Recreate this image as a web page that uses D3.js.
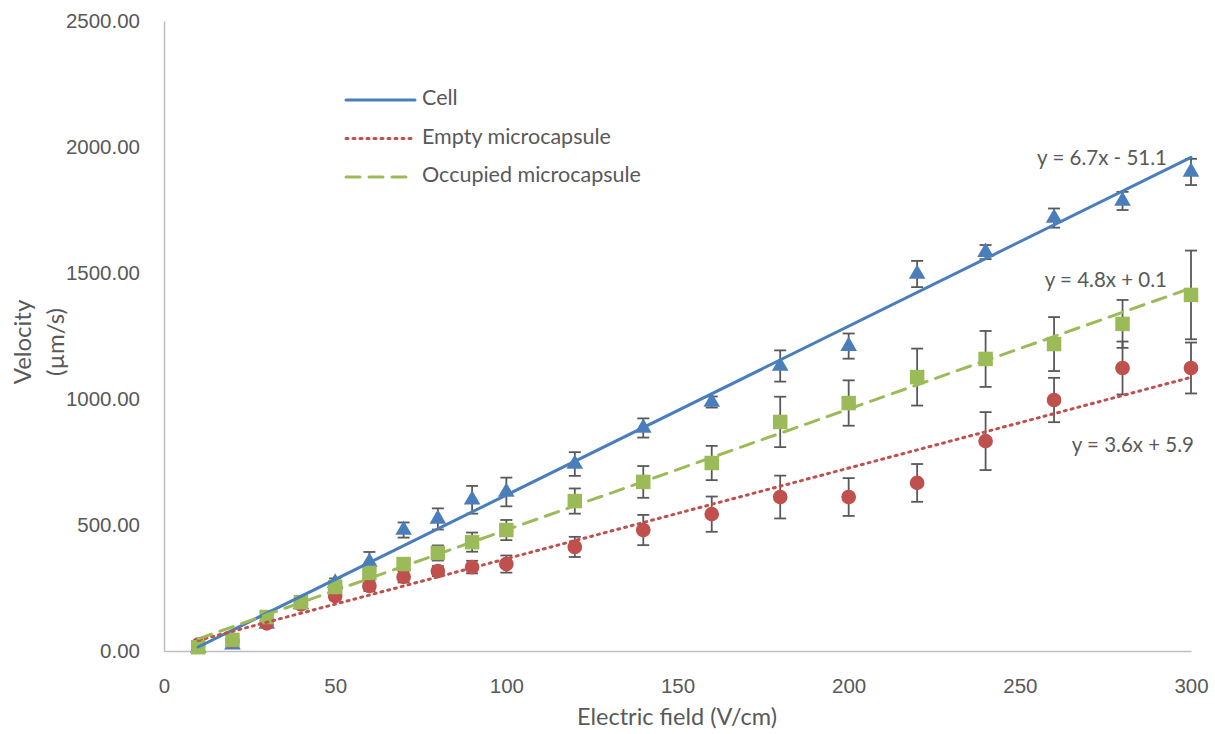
<!DOCTYPE html>
<html lang="en">
<head>
  <meta charset="UTF-8">
  <title>Velocity vs electric field</title>
  <style>
    body { margin: 0; background: #fff; }
    svg { font-family: Lato, "Liberation Sans", sans-serif; }
    .tick text { fill: #595959; font-size: 20.5px; }
  </style>
</head>
<body>
  <div id="chart"></div>
  <script src="https://d3js.org/d3.v7.min.js"></script>
  <script>
    // electric field (V/cm)
    const fields = [10, 20, 30, 40, 50, 60, 70, 80, 90, 100, 120, 140, 160, 180, 200, 220, 240, 260, 280, 300];

    // velocity (um/s) with error
    const cellVel = [12, 25, 107, 185, 270, 353, 480, 524, 600, 631, 742, 885, 988, 1131, 1210, 1496, 1583, 1718, 1786, 1901];
    const cellErr = [5, 8, 10, 12, 18, 40, 30, 42, 55, 57, 47, 38, 22, 62, 50, 52, 28, 38, 36, 52];
    const emptyVel = [25, 40, 110, 185, 218, 258, 294, 317, 333, 345, 413, 480, 543, 611, 611, 667, 833, 996, 1123, 1123];
    const emptyErr = [5, 8, 10, 12, 15, 20, 22, 20, 25, 34, 40, 60, 70, 85, 75, 75, 115, 88, 105, 101];
    const occVel = [15, 44, 135, 194, 254, 310, 345, 389, 432, 480, 595, 671, 746, 909, 984, 1087, 1159, 1218, 1298, 1413];
    const occErr = [5, 8, 10, 12, 15, 18, 20, 30, 38, 40, 50, 63, 68, 100, 90, 113, 111, 107, 95, 176];

    // trend line coefficients [slope, intercept]
    const cellFit = [6.7, -51.1];
    const emptyFit = [3.6, 5.9];
    const occFit = [4.8, 0.1];

    const seriesNames = ['Cell', 'Empty microcapsule', 'Occupied microcapsule'];
    const eqLabels = ['y = 6.7x - 51.1', 'y = 3.6x + 5.9', 'y = 4.8x + 0.1'];
    const yTicks = [0, 500, 1000, 1500, 2000, 2500];
    const xTicks = [0, 50, 100, 150, 200, 250, 300];

    const W = 1215, H = 734;
    const margin = { top: 21, right: 24, bottom: 83, left: 164 };
    const width = W - margin.left - margin.right;
    const height = H - margin.top - margin.bottom;

    const x = d3.scaleLinear().domain([0, 300]).range([0, width]);
    const y = d3.scaleLinear().domain([0, 2500]).range([height, 0]);

    const series = [
      { name: seriesNames[0], vel: cellVel, err: cellErr, fit: cellFit, color: '#4A7EBB', dash: null, shape: d3.symbolTriangle, size: 120, eq: eqLabels[0] },
      { name: seriesNames[1], vel: emptyVel, err: emptyErr, fit: emptyFit, color: '#C0504D', dash: '2,5', shape: d3.symbolCircle, size: 170, eq: eqLabels[1] },
      { name: seriesNames[2], vel: occVel, err: occErr, fit: occFit, color: '#9BBB59', dash: '14,9', shape: d3.symbolSquare, size: 210, eq: eqLabels[2] }
    ];

    const svg = d3.select('#chart').append('svg')
      .attr('width', W)
      .attr('height', H);

    const g = svg.append('g')
      .attr('transform', `translate(${margin.left},${margin.top})`);

    // axes
    const yAxis = g.append('g')
      .call(d3.axisLeft(y).tickValues(yTicks).tickSize(0).tickPadding(24).tickFormat(d3.format('.2f')));
    yAxis.select('.domain').attr('stroke', '#BFBFBF').attr('stroke-width', 1.5);

    const xAxis = g.append('g')
      .attr('transform', `translate(0,${height})`)
      .call(d3.axisBottom(x).tickValues(xTicks).tickSize(0).tickPadding(27));
    xAxis.select('.domain').attr('stroke', '#BFBFBF').attr('stroke-width', 1.5);

    // error bars
    series.forEach(s => {
      const eb = g.append('g').attr('stroke', '#595959').attr('stroke-width', 1.8);
      fields.forEach((f, i) => {
        const cx = x(f);
        const y0 = y(s.vel[i] - s.err[i]), y1 = y(s.vel[i] + s.err[i]);
        eb.append('line').attr('x1', cx).attr('x2', cx).attr('y1', y0).attr('y2', y1);
        eb.append('line').attr('x1', cx - 6).attr('x2', cx + 6).attr('y1', y0).attr('y2', y0);
        eb.append('line').attr('x1', cx - 6).attr('x2', cx + 6).attr('y1', y1).attr('y2', y1);
      });
    });

    // markers
    series.forEach(s => {
      g.append('g').selectAll('path')
        .data(fields)
        .enter().append('path')
        .attr('transform', (f, i) => `translate(${x(f)},${y(s.vel[i])})`)
        .attr('d', d3.symbol().type(s.shape).size(s.size))
        .attr('fill', s.color);
    });

    // trend lines
    series.forEach(s => {
      const x0 = fields[0], x1 = fields[fields.length - 1];
      g.append('line')
        .attr('x1', x(x0)).attr('y1', y(s.fit[0] * x0 + s.fit[1]))
        .attr('x2', x(x1)).attr('y2', y(s.fit[0] * x1 + s.fit[1]))
        .attr('stroke', s.color)
        .attr('stroke-width', 3)
        .attr('stroke-linecap', 'round')
        .attr('stroke-dasharray', s.dash);
    });

    // equation labels
    const eqPos = [[1167, 160], [1194, 447], [1167, 282]];
    series.forEach((s, i) => {
      svg.append('text')
        .attr('x', eqPos[i][0]).attr('y', eqPos[i][1])
        .attr('text-anchor', 'end')
        .attr('dominant-baseline', 'middle')
        .attr('fill', '#595959')
        .style('font-size', '20.5px')
        .text(s.eq);
    });

    // legend
    const legend = svg.append('g').attr('transform', 'translate(346,100)');
    series.forEach((s, i) => {
      const row = legend.append('g').attr('transform', `translate(0,${i * 38.5})`);
      row.append('line')
        .attr('x1', 0).attr('x2', 69)
        .attr('stroke', s.color)
        .attr('stroke-width', 3)
        .attr('stroke-linecap', 'round')
        .attr('stroke-dasharray', s.dash);
      row.append('text')
        .attr('x', 76).attr('y', 0)
        .attr('dominant-baseline', 'middle')
        .attr('fill', '#595959')
        .style('font-size', '21.5px')
        .text(s.name);
    });

    // axis titles
    svg.append('text')
      .attr('x', 677)
      .attr('y', 719)
      .attr('text-anchor', 'middle')
      .attr('dominant-baseline', 'middle')
      .attr('fill', '#595959')
      .style('font-size', '23.5px')
      .text('Electric field (V/cm)');

    const yt = svg.append('text')
      .attr('transform', 'translate(23,342) rotate(-90)')
      .attr('text-anchor', 'middle')
      .attr('fill', '#595959')
      .style('font-size', '24px');
    yt.append('tspan').attr('x', 0).attr('dy', '0.35em').text('Velocity');
    yt.append('tspan').attr('x', 0).attr('dy', '1.35em').text('(µm/s)');
  </script>
</body>
</html>
